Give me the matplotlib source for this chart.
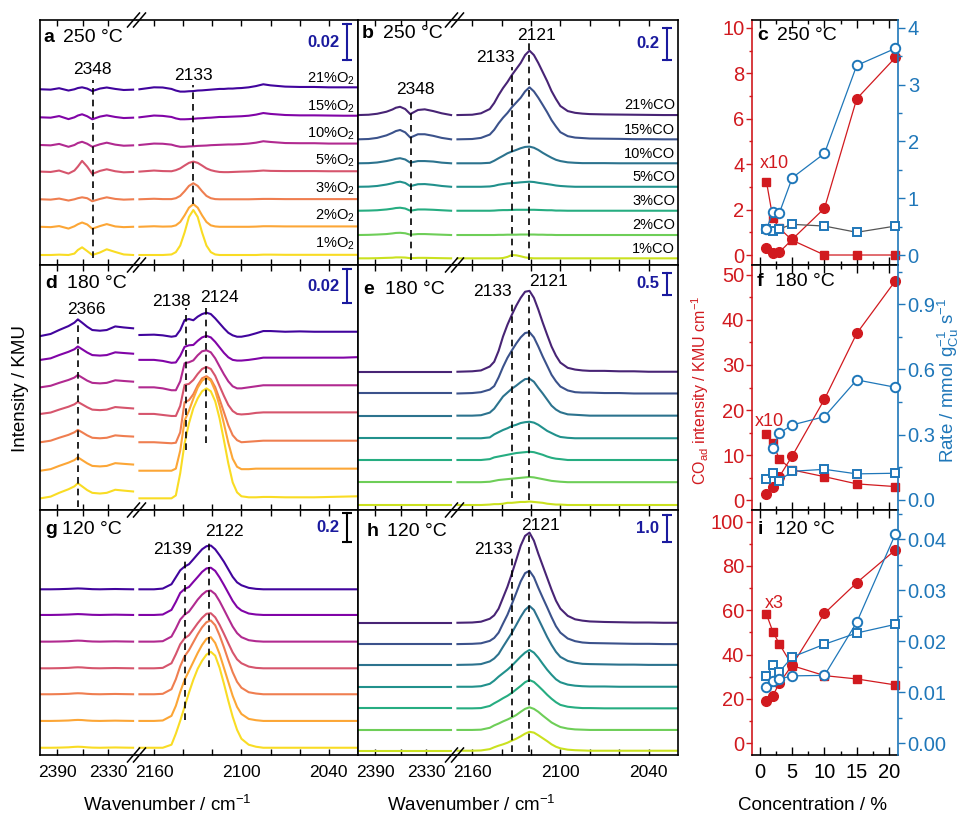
import numpy as np
import matplotlib
matplotlib.use("Agg")
import matplotlib.pyplot as plt
from matplotlib.lines import Line2D
from matplotlib.ticker import MultipleLocator, FormatStrFormatter

plt.rcParams["font.family"] = ["Liberation Sans", "DejaVu Sans"]
plt.rcParams["mathtext.fontset"] = "custom"
plt.rcParams["mathtext.rm"] = "Liberation Sans"
plt.rcParams["mathtext.it"] = "Liberation Sans:italic"
plt.rcParams["mathtext.bf"] = "Liberation Sans:bold"
plt.rcParams["mathtext.default"] = "regular"
plt.rcParams["axes.linewidth"] = 1.2

# ------------------------------------------------------------------ data
conc = [1, 2, 3, 5, 10, 15, 21]
o2_labels = ["1%O$_2$", "2%O$_2$", "3%O$_2$", "5%O$_2$", "10%O$_2$", "15%O$_2$", "21%O$_2$"]
co_labels = ["1%CO", "2%CO", "3%CO", "5%CO", "10%CO", "15%CO", "21%CO"]

wn_left = [2410, 2398, 2388, 2377, 2370, 2366, 2361, 2355, 2349, 2340, 2332, 2322, 2312, 2301]
wn_left_flat = [2410, 2301]
wn_right = [2170, 2160, 2154, 2148, 2145, 2142, 2139, 2136, 2133, 2130, 2127, 2124, 2121, 2118, 2115,
            2112, 2109, 2106, 2103, 2100, 2095, 2090, 2085, 2080, 2070, 2060, 2050, 2040, 2030, 2020]

# panel a: O2 series 250 C, values in 1e-3 KMU, rows = 1,2,3,5,10,15,21 %
a_unit = 1e-3
a_offset = [5.6, 21.4, 36.8, 52.3, 67.2, 82.7, 98.4]
a_left = [
    [0, 0, 0.2, 0, 0.8, 2.8, 4.3, 2.2, 0, 1.4, 3.2, 1.7, 0.3, 0],
    [0, -0.2, 0.4, -1.0, 0.3, 1.4, 2.4, 1.3, -1.1, 0.4, 1.5, 0.2, -0.2, 0],
    [0, -0.2, 0.4, -0.7, 0, 0.6, 1.1, 0.6, -1.1, 0.2, 1.1, 0.2, -0.2, 0],
    [0, -0.2, 0.6, -1.1, 0.6, 2.8, 6.0, 2.8, -1.3, 0.4, 1.3, 0.2, -0.4, -0.2],
    [0, -0.2, 0.6, -1.0, 0, 1.1, 1.8, 0.7, -1.0, 0.4, 1.3, 0.2, -0.4, -0.2],
    [0, -0.2, 0.7, -1.0, 0, 1.0, 1.7, 0.6, -1.1, 0.4, 1.1, 0.2, -0.4, -0.2],
    [0, -0.2, 0.6, -0.7, 0, 0.7, 1.1, 0.4, -1.0, 0.4, 1.0, 0.2, -0.4, -0.2],
]
a_right = [
    [0, 0, 0, 0.3, 1.6, 5.3, 12.6, 21.3, 25.2, 21.3, 12.6, 5.3, 1.6, 0.3, 0, 0, 0, 0, 0, 0, 0, 0, 0.2, 0.2, 0.1, 0.1, 0.1, 0.1, 0.1, 0.1],
    [0, 0.3, 0.1, 0.2, 0.8, 2.7, 6.4, 10.7, 12.7, 10.7, 6.4, 2.7, 0.8, 0.2, 0, 0, 0, 0, 0, 0, 0, 0.1, 0.3, 0.3, 0.2, 0.2, 0.2, 0.2, 0.2, 0.2],
    [0, 0.3, 0.1, 0.1, 0.6, 1.9, 4.5, 7.5, 9.0, 7.5, 4.5, 1.9, 0.6, 0.1, 0, 0, 0, 0, 0, 0, 0, 0.1, 0.2, 0.2, 0.1, 0.1, 0.1, 0.1, 0.1, 0.1],
    [0, 0.6, 0.3, 0.2, 0.8, 1.8, 3.4, 4.9, 5.6, 4.9, 3.4, 1.8, 0.8, 0.2, -0.2, -0.3, -0.3, -0.2, -0.1, 0, 0.1, 0.3, 0.6, 0.4, 0.3, 0.3, 0.3, 0.2, 0.2, 0.2],
    [0, 0.8, 0.7, 0.2, -0.5, -1.0, -1.0, -0.8, -0.7, -0.5, -0.4, -0.3, -0.1, 0, 0.1, 0.2, 0.3, 0.3, 0.4, 0.5, 0.8, 1.3, 2.1, 1.7, 1.1, 1.0, 1.0, 0.8, 0.8, 0.8],
    [0, 1.0, 0.8, 0.2, -0.6, -1.1, -1.1, -1.0, -0.8, -0.6, -0.5, -0.3, -0.2, 0, 0.2, 0.2, 0.3, 0.4, 0.5, 0.6, 0.9, 1.5, 2.4, 1.9, 1.3, 1.1, 1.1, 1.0, 0.9, 0.9],
    [0, 1.1, 1.0, 0.2, -0.7, -1.3, -1.3, -1.1, -1.0, -0.7, -0.6, -0.4, -0.2, 0, 0.2, 0.2, 0.4, 0.4, 0.6, 0.7, 1.1, 1.8, 2.8, 2.2, 1.5, 1.3, 1.3, 1.1, 1.1, 1.1],
]

# panel b: CO series 250 C, values in 1e-2 KMU
b_unit = 1e-2
b_offset = [4.2, 18.9, 34.2, 49.3, 64.1, 79.2, 94.5]
b_left = [
    [0, 0, 0.1, 0.3, 0.4, 0.6, 0.6, 0.5, 0.1, 0.3, 0.3, 0.2, 0.1, 0],
    [0, 0.1, 0.3, 0.6, 1.0, 1.3, 1.4, 1.1, 0.2, 0.6, 0.6, 0.4, 0.2, 0],
    [0, 0.1, 0.3, 0.8, 1.3, 1.7, 1.9, 1.4, 0, 0.8, 0.8, 0.6, 0.3, 0],
    [0, 0.1, 0.5, 1.4, 2.2, 2.8, 3.2, 2.4, 0.4, 1.6, 1.7, 1.2, 0.5, 0],
    [0, 0.1, 0.5, 1.4, 2.2, 2.8, 3.2, 2.4, 0.4, 1.4, 1.4, 1.1, 0.4, 0],
    [0, 0.2, 0.9, 2.5, 4.1, 5.2, 5.9, 4.4, 1.1, 3.2, 3.2, 2.2, 0.9, 0],
    [0, 0.2, 0.8, 2.1, 3.5, 4.6, 5.2, 3.8, 0.6, 3.2, 3.6, 2.5, 1.1, 0],
]
b_right = [
    [0, 0, 0, 0, 0, 0, 0.2, 0.9, 2.1, 1.9, 1.3, 0.6, 0.2, 0, 0, 0, 0, 0, 0, 0, 0, 0, 0, 0, 0, 0, 0, 0, 0, 0],
    [0, 0, 0, 0, 0, 0.1, 0.1, 0.2, 0.2, 0.2, 0.3, 0.3, 0.3, 0.3, 0.2, 0.2, 0.1, 0.1, 0, 0, 0, 0, 0, 0, 0, 0, 0, 0, 0, 0],
    [0, 0, 0, 0, 0.1, 0.3, 0.4, 0.4, 0.5, 0.6, 0.6, 0.6, 0.6, 0.6, 0.5, 0.4, 0.3, 0.3, 0.1, 0.1, 0, 0, 0, 0, 0, 0, 0, 0, 0, 0],
    [0, 0, 0, 0.2, 0.6, 1.3, 1.7, 2.1, 2.3, 2.5, 2.8, 3.0, 3.2, 3.0, 2.5, 2.1, 1.7, 1.3, 0.8, 0.5, 0.2, 0, 0, 0, 0, 0, 0, 0, 0, 0],
    [0, 0, 0, 0.3, 1.6, 3.2, 4.7, 6.3, 7.4, 8.4, 9.5, 10.3, 10.5, 9.8, 8.4, 6.6, 5.0, 3.5, 2.2, 1.4, 0.6, 0.3, 0.1, 0.1, 0.1, 0, 0, 0, 0, 0],
    [0, 0.2, 0.9, 3.0, 6.0, 10.1, 13.6, 16.6, 20.2, 23.2, 26.2, 30.2, 32.8, 30.2, 26.2, 21.7, 17.1, 12.1, 8.1, 4.5, 2.0, 1.1, 0.8, 0.5, 0.4, 0.3, 0.1, 0.1, 0, 0],
    [0, 0.2, 1.1, 3.8, 7.6, 12.6, 17.0, 20.8, 25.2, 29.0, 32.8, 37.8, 40.6, 37.8, 32.8, 27.1, 21.4, 15.1, 10.1, 5.7, 2.5, 1.4, 0.9, 0.6, 0.4, 0.3, 0.2, 0.1, 0, 0],
]

# panel d: O2 series 180 C, values in 1e-3 KMU
d_unit = 1e-3
d_offset = [6.8, 22.9, 39.5, 56.0, 71.5, 87.5, 101.4]
d_left = [
    [0, 1.0, 3.2, 5.3, 7.0, 8.8, 7.0, 4.8, 3.2, 2.8, 3.2, 5.0, 4.5, 4.0],
    [0, 0.9, 2.8, 4.7, 6.2, 7.8, 6.2, 4.3, 2.8, 2.5, 2.8, 4.4, 4.0, 3.6],
    [0, 0.9, 2.6, 4.3, 5.8, 7.2, 5.8, 4.0, 2.6, 2.3, 2.6, 4.0, 3.6, 3.3],
    [0, 0.8, 2.5, 4.2, 5.6, 7.0, 5.6, 3.9, 2.5, 2.2, 2.5, 4.0, 3.6, 3.2],
    [0, 0.9, 2.6, 4.3, 5.7, 7.2, 5.7, 3.9, 2.6, 2.3, 2.6, 4.1, 3.7, 3.3],
    [0, 0.9, 2.8, 4.7, 6.2, 7.8, 6.2, 4.3, 2.8, 2.5, 2.8, 4.4, 4.0, 3.6],
    [0, 1.2, 3.5, 5.8, 7.8, 9.7, 7.8, 5.4, 3.5, 3.1, 3.5, 5.6, 5.0, 4.5],
]
d_right = [
    [0, 0, 0, 0, 1.7, 14.6, 32.1, 43.7, 52.5, 58.3, 62.4, 64.1, 62.4, 56.6, 46.6, 33.8, 20.4, 9.3, 3.5, 1.2, 0.6, 0.6, 0.8, 0.8, 0.6, 0.6, 0.6, 0.8, 1.0, 1.2],
    [0, 0, 0, 0, 1.2, 11.7, 29.2, 35.0, 42.0, 48.4, 52.5, 54.2, 52.5, 46.6, 37.9, 27.4, 16.3, 7.0, 2.3, 0.9, 0.9, 1.2, 1.2, 1.2, 1.2, 1.2, 1.2, 1.2, 1.2, 1.2],
    [0, 0, -0.3, -0.6, -0.3, 5.8, 23.3, 24.5, 28.0, 33.2, 37.3, 38.5, 36.7, 32.1, 25.1, 17.5, 9.9, 4.1, 1.2, 0, 0.3, 0.6, 0.9, 0.9, 0.9, 0.9, 0.9, 0.9, 0.9, 0.9],
    [0, 0, -0.6, -1.2, -1.2, 4.7, 16.9, 17.5, 19.8, 23.3, 26.2, 27.4, 26.2, 22.2, 16.3, 10.5, 5.2, 1.7, 0, -0.3, 0, 0.6, 0.9, 0.9, 0.9, 0.9, 0.9, 0.9, 0.9, 0.9],
    [0, 0, -0.6, -1.7, -1.7, 3.5, 14.0, 14.6, 15.7, 18.7, 21.0, 21.6, 20.4, 16.9, 12.2, 7.6, 3.5, 0.6, -0.6, -0.6, 0, 0.6, 1.2, 1.2, 1.2, 1.2, 1.2, 1.2, 1.2, 1.2],
    [0, 0, -0.6, -1.7, -1.5, 2.3, 7.6, 8.5, 8.7, 11.1, 13.1, 14.0, 13.1, 10.5, 7.3, 4.1, 1.5, 0, -0.4, -0.4, 0, 0.6, 1.3, 1.3, 1.3, 1.3, 1.3, 1.3, 1.3, 1.6],
    [0.6, 0.8, 0.4, -0.4, 0, 3.5, 9.3, 9.9, 9.2, 11.3, 12.8, 13.6, 12.8, 10.3, 7.4, 4.5, 1.9, 0.4, -0.4, -0.4, 0.4, 1.6, 2.9, 2.9, 2.5, 2.7, 2.5, 2.5, 2.5, 2.5],
]

# panel e: CO series 180 C, values in KMU
e_unit = 1.0
e_offset = [0.115, 0.64, 1.15, 1.65, 2.17, 2.68, 3.18]
e_left = [[0, 0], [0, 0], [0, 0], [0, 0], [0, 0], [0, 0], [0, 0]]
e_right = [
    [0, 0, 0, 0.01, 0.02, 0.02, 0.03, 0.05, 0.05, 0.06, 0.07, 0.07, 0.08, 0.07, 0.06, 0.05, 0.03, 0.02, 0.01, 0.01, 0, 0, 0, 0, 0, 0, 0, 0, 0, 0],
    [0, 0, 0, 0.01, 0.03, 0.05, 0.06, 0.07, 0.08, 0.09, 0.10, 0.11, 0.12, 0.11, 0.09, 0.07, 0.05, 0.03, 0.02, 0.01, 0, 0, 0, 0, 0, 0, 0, 0, 0, 0],
    [0, 0, 0, 0.02, 0.06, 0.08, 0.10, 0.12, 0.14, 0.16, 0.17, 0.18, 0.19, 0.18, 0.15, 0.12, 0.08, 0.05, 0.03, 0.02, 0, 0, 0, 0, 0, 0, 0, 0, 0, 0],
    [0, 0, 0, 0.02, 0.09, 0.14, 0.19, 0.23, 0.28, 0.31, 0.35, 0.37, 0.38, 0.36, 0.31, 0.24, 0.17, 0.12, 0.07, 0.03, 0.01, 0, 0, 0, 0, 0, 0, 0, 0, 0],
    [0, 0, 0.01, 0.07, 0.16, 0.30, 0.44, 0.53, 0.62, 0.69, 0.77, 0.84, 0.85, 0.78, 0.64, 0.51, 0.37, 0.23, 0.14, 0.08, 0.03, 0.02, 0.01, 0, 0, 0, 0, 0, 0, 0],
    [0, 0.01, 0.03, 0.09, 0.17, 0.37, 0.61, 0.82, 0.99, 1.15, 1.29, 1.39, 1.41, 1.29, 1.08, 0.85, 0.64, 0.43, 0.28, 0.16, 0.07, 0.03, 0.02, 0.02, 0.01, 0.01, 0, 0, 0, 0],
    [0, 0.01, 0.03, 0.12, 0.23, 0.48, 0.81, 1.08, 1.31, 1.52, 1.70, 1.84, 1.86, 1.70, 1.43, 1.13, 0.85, 0.58, 0.37, 0.21, 0.09, 0.05, 0.03, 0.02, 0.02, 0.01, 0.01, 0, 0, 0],
]

# panel g: O2 series 120 C, values in KMU
g_unit = 1.0
g_offset = [0.050, 0.235, 0.419, 0.598, 0.782, 0.966, 1.143]
g_left = [
    [0, 0, 0.001, 0.003, 0.006, 0.007, 0.006, 0.003, 0.001, 0, 0.001, 0.002, 0.001, 0],
    [0, 0, 0.001, 0.003, 0.006, 0.007, 0.006, 0.003, 0.001, 0, 0.001, 0.002, 0.001, 0],
    [0, 0, 0.001, 0.003, 0.006, 0.007, 0.006, 0.003, 0.001, 0, 0.001, 0.002, 0.001, 0],
    [0, 0, 0.001, 0.003, 0.006, 0.007, 0.006, 0.003, 0.001, 0, 0.001, 0.002, 0.001, 0],
    [0, 0, 0.001, 0.003, 0.006, 0.007, 0.006, 0.003, 0.001, 0, 0.001, 0.002, 0.001, 0],
    [0, 0, 0.001, 0.003, 0.005, 0.006, 0.005, 0.003, 0.001, 0, 0.001, 0.002, 0.001, 0],
    [0, 0, 0.001, 0.003, 0.005, 0.006, 0.005, 0.003, 0.001, 0, 0.001, 0.002, 0.001, 0],
]
g_right = [
    [0, 0, 0, 0.021, 0.097, 0.186, 0.283, 0.380, 0.469, 0.545, 0.600, 0.642, 0.662, 0.635, 0.552, 0.442, 0.324, 0.214, 0.124, 0.062, 0.021, 0.007, 0, 0, 0, 0, 0, 0, 0, 0],
    [0, 0, 0.003, 0.035, 0.104, 0.200, 0.283, 0.345, 0.407, 0.469, 0.524, 0.566, 0.578, 0.538, 0.462, 0.366, 0.269, 0.173, 0.097, 0.048, 0.014, 0.005, 0, 0, 0, 0, 0, 0, 0, 0],
    [0, 0, 0.003, 0.035, 0.104, 0.193, 0.262, 0.304, 0.359, 0.414, 0.462, 0.497, 0.509, 0.476, 0.407, 0.324, 0.235, 0.152, 0.086, 0.045, 0.014, 0.005, 0, 0, 0, 0, 0, 0, 0, 0],
    [0, 0, 0.003, 0.035, 0.097, 0.166, 0.207, 0.228, 0.269, 0.311, 0.348, 0.376, 0.380, 0.352, 0.300, 0.238, 0.173, 0.110, 0.062, 0.035, 0.012, 0.003, 0, 0, 0, 0, 0, 0, 0, 0],
    [0, 0, 0.003, 0.035, 0.090, 0.152, 0.186, 0.207, 0.248, 0.290, 0.324, 0.348, 0.352, 0.328, 0.279, 0.221, 0.162, 0.104, 0.059, 0.031, 0.010, 0.003, 0, 0, 0, 0, 0, 0, 0, 0],
    [0, 0, 0.003, 0.035, 0.090, 0.152, 0.179, 0.193, 0.228, 0.262, 0.297, 0.321, 0.326, 0.304, 0.259, 0.207, 0.152, 0.097, 0.055, 0.031, 0.010, 0.003, 0, 0, 0, 0, 0, 0, 0, 0],
    [0, 0, 0.005, 0.035, 0.083, 0.131, 0.157, 0.173, 0.207, 0.242, 0.276, 0.297, 0.302, 0.276, 0.235, 0.190, 0.138, 0.086, 0.048, 0.028, 0.010, 0.003, 0, 0, 0, 0, 0, 0, 0, 0],
]

# panel h: CO series 120 C, values in KMU
h_unit = 1.0
h_offset = [0.16, 0.94, 1.75, 2.56, 3.38, 4.16, 4.96]
h_left = [[0, 0], [0, 0], [0, 0], [0, 0], [0, 0], [0, 0], [0, 0]]
h_right = [
    [0, 0, 0.01, 0.06, 0.13, 0.19, 0.24, 0.30, 0.38, 0.45, 0.54, 0.64, 0.71, 0.68, 0.58, 0.47, 0.36, 0.24, 0.15, 0.09, 0.04, 0.02, 0.01, 0, 0, 0, 0, 0, 0, 0],
    [0, 0, 0.01, 0.08, 0.17, 0.24, 0.32, 0.39, 0.47, 0.56, 0.68, 0.79, 0.85, 0.79, 0.68, 0.54, 0.41, 0.28, 0.19, 0.11, 0.05, 0.02, 0.01, 0, 0, 0, 0, 0, 0, 0],
    [0, 0, 0.01, 0.09, 0.19, 0.28, 0.38, 0.47, 0.58, 0.71, 0.84, 0.98, 1.06, 0.99, 0.84, 0.68, 0.51, 0.36, 0.23, 0.13, 0.06, 0.03, 0.01, 0.01, 0, 0, 0, 0, 0, 0],
    [0, 0, 0.02, 0.11, 0.23, 0.38, 0.51, 0.64, 0.79, 0.96, 1.13, 1.28, 1.38, 1.28, 1.09, 0.86, 0.64, 0.45, 0.28, 0.17, 0.08, 0.04, 0.02, 0.01, 0.01, 0, 0, 0, 0, 0],
    [0, 0.01, 0.03, 0.13, 0.24, 0.41, 0.68, 0.94, 1.20, 1.50, 1.80, 2.06, 2.21, 2.06, 1.73, 1.39, 1.05, 0.75, 0.49, 0.30, 0.15, 0.08, 0.04, 0.03, 0.02, 0.01, 0.01, 0, 0, 0],
    [0, 0.01, 0.03, 0.12, 0.23, 0.43, 0.77, 1.10, 1.50, 1.92, 2.35, 2.66, 2.75, 2.51, 2.11, 1.74, 1.38, 1.01, 0.67, 0.43, 0.21, 0.11, 0.06, 0.04, 0.03, 0.02, 0.01, 0.01, 0, 0],
    [0, 0.01, 0.04, 0.15, 0.28, 0.53, 0.94, 1.35, 1.84, 2.36, 2.89, 3.26, 3.38, 3.08, 2.59, 2.14, 1.69, 1.24, 0.83, 0.53, 0.26, 0.13, 0.08, 0.05, 0.03, 0.02, 0.01, 0.01, 0, 0],
]

# panel c (250 C): CO_ad intensity (KMU cm-1) and rate
c_int_co = [0.32, 0.10, 0.12, 0.69, 2.06, 6.88, 8.70]
c_int_o2_x10 = [3.23, 1.62, 1.18, 0.65, 0.0, 0.0, 0.0]
c_rate_co_conc = [1, 2, 3, 5, 10, 15, 21]
c_rate_co = [0.45, 0.76, 0.74, 1.36, 1.79, 3.34, 3.64]
c_rate_o2 = [0.45, 0.43, 0.46, 0.54, 0.51, 0.40, 0.51]
# panel f (180 C)
f_int_co = [1.3, 2.8, 5.2, 9.8, 22.4, 37.0, 48.7]
f_int_o2_x10 = [14.6, 12.6, 9.1, 6.7, 5.2, 3.6, 3.0]
f_rate_co_conc = [2, 3, 5, 10, 15, 21]
f_rate_co = [0.238, 0.307, 0.345, 0.383, 0.552, 0.518]
f_rate_o2 = [0.095, 0.126, 0.089, 0.132, 0.141, 0.120, 0.123]
# panel i (120 C)
i_int_co = [19.2, 21.5, 27.1, 35.3, 58.6, 72.4, 87.2]
i_int_o2_x3 = [58.2, 50.3, 44.8, 35.0, 30.5, 29.0, 26.3]
i_rate_co_conc = [1, 2, 3, 5, 10, 15, 21]
i_rate_co = [0.0111, 0.0122, 0.0126, 0.0132, 0.0133, 0.0237, 0.0410]
i_rate_o2 = [0.0132, 0.0154, 0.0140, 0.0169, 0.0194, 0.0216, 0.0233]

for name, arr, n in [("a_left", a_left, 14), ("a_right", a_right, 30), ("b_left", b_left, 14),
                     ("b_right", b_right, 30), ("d_left", d_left, 14), ("d_right", d_right, 30),
                     ("e_right", e_right, 30), ("g_left", g_left, 14), ("g_right", g_right, 30),
                     ("h_right", h_right, 30)]:
    for k, row in enumerate(arr):
        assert len(row) == n, (name, k, len(row))

# ------------------------------------------------------------------ style
RED = "#d11a1f"
BLUE = "#1f77b9"
NAVY = "#1a1a9e"
plasma = plt.get_cmap("plasma")
viridis = plt.get_cmap("viridis")
plasma_vals = [0.93, 0.80, 0.68, 0.55, 0.40, 0.26, 0.10]
viridis_vals = [0.92, 0.78, 0.62, 0.50, 0.38, 0.25, 0.10]

W, H = 960, 814
fig = plt.figure(figsize=(W / 100, H / 100), dpi=100)


def px_axes(x0, y0, w, h):
    return fig.add_axes([x0 / W, 1 - (y0 + h) / H, w / W, h / H])


def ftext(x, y, s, **kw):
    fig.text(x / W, 1 - y / H, s, **kw)


def fline(xs, ys, **kw):
    fig.add_artist(Line2D([x / W for x in xs], [1 - y / H for y in ys],
                          transform=fig.transFigure, **kw))


ROW_Y = [20, 265, 510]
PH = 245
COL_X = [40, 358]
COL_W = [318, 320]
SEG = 96.5


def spectra(col, row, lwn, ldat, rdat, unit, offs, ytop, cmap, cvals, bottom):
    x0, y0 = COL_X[col], ROW_Y[row]
    axL = px_axes(x0, y0, SEG, PH)
    axR = px_axes(x0 + SEG, y0, COL_W[col] - SEG, PH)
    axL.set_xlim(2410.5, 2297)
    axR.set_xlim(2172, 2020)
    for ax in (axL, axR):
        ax.set_ylim(0, ytop)
        ax.set_yticks([])
        ax.tick_params(axis="x", direction="in", top=True, bottom=True, length=4, width=1.0,
                       labelsize=12.5, pad=7, labelbottom=bottom)
    axL.spines["right"].set_visible(False)
    axR.spines["left"].set_visible(False)
    axL.set_xticks([2390, 2360, 2330])
    axL.set_xticklabels(["2390", "", "2330"])
    axR.set_xticks([2160, 2140, 2120, 2100, 2080, 2060, 2040])
    axR.set_xticklabels(["2160", "", "", "2100", "", "", "2040"])
    for i in range(6, -1, -1):
        c = cmap(cvals[i])
        axL.plot(lwn, (np.asarray(ldat[i]) + offs[i]) * unit, color=c, lw=1.5)
        axR.plot(wn_right, (np.asarray(rdat[i]) + offs[i]) * unit, color=c, lw=1.5)
    return axL, axR


def scalebar(axR, val, top_px, txt, barcolor):
    ytop = axR.get_ylim()[1] * (1 - top_px / PH)
    yb = ytop - val
    axR.plot([2027.5, 2027.5], [yb, ytop], color=barcolor, lw=1.5)
    axR.plot([2027.5, 2027.5], [yb, ytop], ls="none", marker="_", ms=7, mew=1.5, color=barcolor)
    axR.text(2033, (ytop + yb) / 2, txt, ha="right", va="center", color=NAVY,
             fontsize=12, fontweight="bold")


def dashed(ax, x, f0, f1):
    ax.axvline(x, ymin=f0, ymax=f1, color="k", ls=(0, (4, 3)), lw=1.2)


def curve_labels(axR, labels, offs, unit):
    for lab, o in zip(labels, offs):
        axR.annotate(lab, xy=(2020, o * unit), xytext=(-2, 2), textcoords="offset points",
                     ha="right", va="bottom", fontsize=10.5)


# spectra panels
aL, aR = spectra(0, 0, wn_left, a_left, a_right, a_unit, a_offset, 0.1372, plasma, plasma_vals, False)
bL, bR = spectra(1, 0, wn_left, b_left, b_right, b_unit, b_offset, 1.544, viridis, viridis_vals, False)
dL, dR = spectra(0, 1, wn_left, d_left, d_right, d_unit, d_offset, 0.1428, plasma, plasma_vals, False)
eL, eR = spectra(1, 1, wn_left_flat, e_left, e_right, e_unit, e_offset, 5.635, viridis, viridis_vals, False)
gL, gR = spectra(0, 2, wn_left, g_left, g_right, g_unit, g_offset, 1.69, plasma, plasma_vals, True)
hL, hR = spectra(1, 2, wn_left_flat, h_left, h_right, h_unit, h_offset, 9.19, viridis, viridis_vals, True)

curve_labels(aR, o2_labels, a_offset, a_unit)
curve_labels(bR, co_labels, b_offset, b_unit)

scalebar(aR, 0.02, 4.3, "0.02", NAVY)
scalebar(bR, 0.2, 8, "0.2", NAVY)
scalebar(dR, 0.02, 4, "0.02", NAVY)
scalebar(eR, 0.5, 8, "0.5", NAVY)
scalebar(gR, 0.2, 3, "0.2", "k")
scalebar(hR, 1.0, 5, "1.0", NAVY)

dashed(aL, 2348, 0.029, 0.755)
dashed(aR, 2133, 0.249, 0.735)
dashed(bL, 2348, 0.02, 0.686)
dashed(bR, 2133, 0.033, 0.808)
dashed(bR, 2121, 0.02, 0.918)
dashed(dL, 2366, 0.012, 0.776)
dashed(dR, 2138, 0.245, 0.824)
dashed(dR, 2124, 0.273, 0.837)
dashed(eR, 2133, 0.049, 0.849)
dashed(eR, 2121, 0.041, 0.890)
dashed(gR, 2139, 0.143, 0.796)
dashed(gR, 2122, 0.359, 0.865)
dashed(hR, 2133, 0.012, 0.804)
dashed(hR, 2121, 0.012, 0.906)

peak_labels = [("2348", 92, 70), ("2133", 193, 75), ("2348", 415, 90), ("2133", 495, 57),
               ("2121", 537, 35), ("2366", 86, 310), ("2138", 171, 302), ("2124", 219, 297),
               ("2133", 492, 292), ("2121", 548, 281), ("2139", 172, 550), ("2122", 224, 532),
               ("2133", 493, 550), ("2121", 540, 525)]
for s, x, y in peak_labels:
    ftext(x, y, s, ha="center", va="center", fontsize=12.5)

panel_titles = [("a", 43, 63, 37, "250 °C"), ("b", 362, 383, 33, "250 °C"),
                ("d", 45, 67, 283, "180 °C"), ("e", 363, 385, 289, "180 °C"),
                ("g", 45, 62, 529, "120 °C"), ("h", 367, 387, 532, "120 °C"),
                ("c", 757, 777, 35, "250 °C"), ("f", 757, 775, 282, "180 °C"),
                ("i", 758, 775, 530, "120 °C")]
for letter, xl, xt, y, t in panel_titles:
    ftext(xl, y, letter, ha="left", va="center", fontsize=14, fontweight="bold")
    ftext(xt, y, t, ha="left", va="center", fontsize=14)

# axis break marks
for col in (0, 1):
    bx = COL_X[col] + SEG
    for y in (20, 265, 510, 755):
        fline([bx - 9, bx + 3], [y + 7, y - 7], color="k", lw=1.1)
        fline([bx - 3, bx + 9], [y + 7, y - 7], color="k", lw=1.1)


# ------------------------------------------------------------------ concentration panels
def conc_panel(row, i_co, i_o2, rc_x, r_co, r_o2, ylimL, ylimR, stepL, minL, stepR, minR,
               fmtR, o2_line, mult, mult_xy, bottom):
    ax = px_axes(752, ROW_Y[row], 146, PH)
    ax2 = ax.twinx()
    ax.set_xlim(-1.24, 21.4)
    ax.set_ylim(*ylimL)
    ax2.set_ylim(*ylimR)
    ax.plot(conc, i_o2, color=RED, lw=0.9, marker="s", ms=6, clip_on=False, zorder=3)
    ax.plot(conc, i_co, color=RED, lw=0.9, marker="o", ms=7, clip_on=False, zorder=4)
    ax2.plot(conc, r_o2, color=o2_line, lw=0.9, marker="s", ms=5.8, mfc="white", mec=BLUE,
             mew=1.4, clip_on=False, zorder=3)
    ax2.plot(rc_x, r_co, color=BLUE, lw=0.9, marker="o", ms=6.8, mfc="white", mec=BLUE,
             mew=1.4, clip_on=False, zorder=4)
    ax.yaxis.set_major_locator(MultipleLocator(stepL))
    ax.yaxis.set_minor_locator(MultipleLocator(minL))
    ax.yaxis.set_major_formatter(FormatStrFormatter("%d"))
    ax2.yaxis.set_major_locator(MultipleLocator(stepR))
    ax2.yaxis.set_minor_locator(MultipleLocator(minR))
    ax2.yaxis.set_major_formatter(FormatStrFormatter(fmtR))
    ax.xaxis.set_major_locator(MultipleLocator(5))
    ax.xaxis.set_minor_locator(MultipleLocator(2.5))
    ax.tick_params(axis="y", which="both", direction="out", colors=RED, labelsize=14.5, pad=1.5)
    ax.tick_params(axis="y", which="major", length=4, width=1)
    ax.tick_params(axis="y", which="minor", length=2.5, width=1)
    ax2.tick_params(axis="y", which="both", direction="out", colors=BLUE, labelsize=14.5, pad=2)
    ax2.tick_params(axis="y", which="major", length=5, width=1)
    ax2.tick_params(axis="y", which="minor", length=3, width=1)
    ax.tick_params(axis="x", which="both", direction="in", top=True, bottom=True,
                   labelbottom=bottom, labelsize=14.5, pad=6)
    ax.tick_params(axis="x", which="major", length=5.5, width=1)
    ax.tick_params(axis="x", which="minor", length=3, width=1)
    ax.spines["left"].set_color(RED)
    ax.spines["right"].set_visible(False)
    for s in ("left", "top", "bottom"):
        ax2.spines[s].set_visible(False)
    ax2.spines["right"].set_color(BLUE)
    ftext(mult_xy[0], mult_xy[1], mult, ha="left", va="center", fontsize=13, color=RED)
    return ax, ax2


conc_panel(0, c_int_co, c_int_o2_x10, c_rate_co_conc, c_rate_co, c_rate_o2,
           (-0.44, 10.35), (-0.176, 4.14), 2, 1, 1, 0.5, "%d", "#555555", "x10", (760, 164), False)
conc_panel(1, f_int_co, f_int_o2_x10, f_rate_co_conc, f_rate_co, f_rate_o2,
           (-2.2, 52.2), (-0.046, 1.08), 10, 5, 0.3, 0.15, "%.1f", BLUE, "x10", (755, 422), False)
conc_panel(2, i_int_co, i_int_o2_x3, i_rate_co_conc, i_rate_co, i_rate_o2,
           (-5.3, 105.2), (-0.0023, 0.0457), 20, 10, 0.01, 0.005, "%.2f", BLUE, "x3", (765, 603), True)

# ------------------------------------------------------------------ axis titles
ftext(21, 388, "Intensity / KMU", rotation=90, ha="center", va="center", fontsize=13.5)
ftext(167, 805, "Wavenumber / cm$^{-1}$", ha="center", va="center", fontsize=13.5)
ftext(471, 805, "Wavenumber / cm$^{-1}$", ha="center", va="center", fontsize=13.5)
ftext(813, 805, "Concentration / %", ha="center", va="center", fontsize=13.5)
ftext(700, 390, "CO$_{ad}$ intensity / KMU cm$^{-1}$", rotation=90, ha="center", va="center",
      fontsize=11.5, color=RED)
ftext(948, 380, "Rate / mmol g$_{Cu}^{-1}$ s$^{-1}$", rotation=90, ha="center", va="center",
      fontsize=13.5, color=BLUE)

fig.savefig("out.png", dpi=100)
